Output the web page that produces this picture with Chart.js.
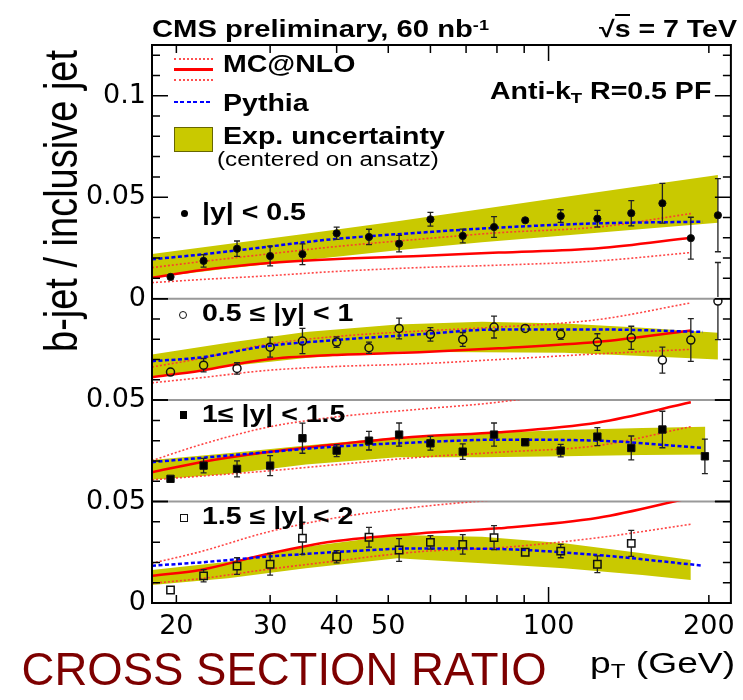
<!DOCTYPE html>
<html>
<head>
<meta charset="UTF-8">
<title>b-jet / inclusive jet</title>
<script src="https://cdn.jsdelivr.net/npm/chart.js"></script>
<style>
  body {margin:0; background:#fff;}
  #wrap {position:relative; width:743px; height:700px; overflow:hidden;}
  #wrap canvas {position:absolute; left:0; top:0;}
  .t {position:absolute; white-space:nowrap; font-family:"Liberation Sans", Arial, sans-serif; color:#000; transform-origin:0 0;}
  .sup {position:relative; top:-0.45em; font-size:0.62em;}
  .sub {position:relative; top:0.3em; font-size:0.65em;}
  .mk {position:absolute; box-sizing:border-box;}
</style>
</head>
<body>
<div id="wrap"><canvas id="c" width="743" height="700"></canvas></div>
<script>
// pT bin centres (GeV)
const ptA = [19.5, 22.5, 26, 30, 34.5, 40, 46, 52.4, 60, 69, 79, 90.4, 105.4, 123.5, 143, 163.6, 185, 208];
const ptC = [19.5, 22.5, 26, 30, 34.5, 40, 46, 52.4, 60, 69, 79, 90.4, 105.4, 123.5, 143, 163.6, 196.6];
const ptD = [19.5, 22.5, 26, 30, 34.5, 40, 46, 52.4, 60, 69, 79, 90.4, 105.4, 123.5, 143];

// measured ratio + stat. errors, one pair per rapidity bin
const data1 = [0.0107, 0.0186, 0.0246, 0.0210, 0.0219, 0.0322, 0.0304, 0.0271, 0.0391, 0.0309, 0.0353, 0.0386, 0.0407, 0.0394, 0.0421, 0.0470, 0.0298, 0.0411];
const err1  = [0.0010, 0.0031, 0.0038, 0.0049, 0.0051, 0.0030, 0.0038, 0.0041, 0.0034, 0.0034, 0.0051, 0.0005, 0.0031, 0.0041, 0.0062, 0.0098, 0.0103, 0.0180];
const data2 = [0.0138, 0.0172, 0.0156, 0.0261, 0.0291, 0.0286, 0.0258, 0.0353, 0.0324, 0.0299, 0.0360, 0.0353, 0.0324, 0.0286, 0.0307, 0.0197, 0.0296, 0.0488];
const err2  = [0.0007, 0.0033, 0.0028, 0.0049, 0.0062, 0.0026, 0.0028, 0.0051, 0.0033, 0.0034, 0.0054, 0.0007, 0.0025, 0.0041, 0.0057, 0.0064, 0.0105, 0.0190];
const data3 = [0.0112, 0.0177, 0.0161, 0.0177, 0.0312, 0.0251, 0.0300, 0.0330, 0.0287, 0.0246, 0.0330, 0.0292, 0.0251, 0.0320, 0.0264, 0.0355, 0.0223];
const err3  = [0.0008, 0.0036, 0.0039, 0.0049, 0.0074, 0.0030, 0.0046, 0.0057, 0.0034, 0.0038, 0.0057, 0.0007, 0.0031, 0.0044, 0.0059, 0.0090, 0.0085];
const data4 = [0.0064, 0.0134, 0.0182, 0.0191, 0.0319, 0.0228, 0.0324, 0.0261, 0.0299, 0.0289, 0.0322, 0.0250, 0.0256, 0.0191, 0.0294];
const err4  = [0.0005, 0.0030, 0.0041, 0.0054, 0.0079, 0.0030, 0.0049, 0.0056, 0.0033, 0.0048, 0.0059, 0.0008, 0.0033, 0.0041, 0.0064];

// theory curves
const mcPt = [18, 22.2, 29.5, 39.3, 57.2, 80.6, 124, 185];
const pyPt = [18, 22.2, 29.5, 39.3, 57.2, 80.6, 124, 195];
const pythia1 = [0.0194, 0.0217, 0.0255, 0.0293, 0.0325, 0.0350, 0.0371, 0.0379];
const mc1     = [0.0103, 0.0140, 0.0174, 0.0194, 0.0210, 0.0227, 0.0248, 0.0300];
const mcUp1   = [0.0153, 0.0182, 0.0219, 0.0255, 0.0293, 0.0325, 0.0353, 0.0419];
const mcDn1   = [0.0079, 0.0094, 0.0112, 0.0133, 0.0153, 0.0165, 0.0186, 0.0227];
const pythia2 = [0.0192, 0.0210, 0.0266, 0.0295, 0.0324, 0.0348, 0.0348, 0.0336];
const mc2     = [0.0113, 0.0145, 0.0200, 0.0222, 0.0236, 0.0255, 0.0287, 0.0343];
const mcUp2   = [0.0163, 0.0205, 0.0274, 0.0312, 0.0340, 0.0360, 0.0397, 0.0479];
const mcDn2   = [0.0085, 0.0110, 0.0146, 0.0165, 0.0179, 0.0200, 0.0228, 0.0250];
const pythia3 = [0.0194, 0.0215, 0.0243, 0.0270, 0.0292, 0.0305, 0.0300, 0.0264];
const mc3     = [0.0144, 0.0194, 0.0243, 0.0280, 0.0320, 0.0341, 0.0390, 0.0489];
const mcUp3   = [0.0202, 0.0280, 0.0365, 0.0415, 0.0455, 0.0490, 0.0565, 0.0695];
const mcDn3   = [0.0107, 0.0125, 0.0150, 0.0180, 0.0218, 0.0243, 0.0276, 0.0369];
const pythia4 = [0.0184, 0.0200, 0.0228, 0.0250, 0.0269, 0.0266, 0.0236, 0.0184];
const mc4     = [0.0134, 0.0163, 0.0240, 0.0303, 0.0343, 0.0368, 0.0420, 0.0519];
const mcUp4   = [0.0196, 0.0253, 0.0348, 0.0417, 0.0474, 0.0510, 0.0550, 0.0600];
const mcDn4   = [0.0097, 0.0120, 0.0165, 0.0205, 0.0253, 0.0272, 0.0322, 0.0388];

// experimental uncertainty band (centered on ansatz)
const bandPt1 = [18, 25, 35, 52, 75, 107, 150, 208];
const bandPt3 = [18, 25, 35, 52, 75, 107, 150, 197];
const bandPt4 = [18, 25, 35, 52, 75, 107, 150, 185];
const bandHi1 = [0.0220, 0.0269, 0.0320, 0.0382, 0.0442, 0.0501, 0.0556, 0.0609];
const bandLo1 = [0.0103, 0.0148, 0.0190, 0.0239, 0.0278, 0.0311, 0.0343, 0.0374];
const bandHi2 = [0.0225, 0.0282, 0.0336, 0.0373, 0.0386, 0.0378, 0.0356, 0.0332];
const bandLo2 = [0.0113, 0.0167, 0.0208, 0.0238, 0.0236, 0.0233, 0.0217, 0.0200];
const bandHi3 = [0.0205, 0.0238, 0.0276, 0.0317, 0.0336, 0.0353, 0.0363, 0.0369];
const bandLo3 = [0.0107, 0.0136, 0.0182, 0.0218, 0.0218, 0.0223, 0.0230, 0.0232];
const bandHi4 = [0.0163, 0.0203, 0.0277, 0.0335, 0.0327, 0.0294, 0.0245, 0.0212];
const bandLo4 = [0.0089, 0.0122, 0.0171, 0.0220, 0.0196, 0.0171, 0.0138, 0.0113];

// axes
const xTicks = [20, 30, 40, 50, 60, 70, 80, 90, 100, 200];
const xLabels = [20, 30, 40, 50, 100, 200];
const yLabels = [['0', '0.05', '0.1'], [], ['0.05'], ['0', '0.05']];

const zip = (xs, ys) => xs.map((x, i) => ({x: x, y: ys[i]}));

const panels = [
  {id: 'y1', max: 0.125, weight: 2.5, pt: ptA, val: data1, err: err1, style: 'circle', hollow: false,
   py: pythia1, mc: mc1, up: mcUp1, dn: mcDn1, bx: bandPt1, hi: bandHi1, lo: bandLo1},
  {id: 'y2', max: 0.05, weight: 1, pt: ptA, val: data2, err: err2, style: 'circle', hollow: true,
   py: pythia2, mc: mc2, up: mcUp2, dn: mcDn2, bx: bandPt1, hi: bandHi2, lo: bandLo2},
  {id: 'y3', max: 0.05, weight: 1, pt: ptC, val: data3, err: err3, style: 'rect', hollow: false,
   py: pythia3, mc: mc3, up: mcUp3, dn: mcDn3, bx: bandPt3, hi: bandHi3, lo: bandLo3},
  {id: 'y4', max: 0.05, weight: 1, pt: ptD, val: data4, err: err4, style: 'rect', hollow: true,
   py: pythia4, mc: mc4, up: mcUp4, dn: mcDn4, bx: bandPt4, hi: bandHi4, lo: bandLo4}
];

const datasets = [];
const scales = {
  x: {
    type: 'logarithmic', min: 18, max: 220,
    grid: {display: false, drawTicks: false}, border: {display: false},
    afterBuildTicks: s => { s.ticks = xTicks.map(v => ({value: v})); },
    afterFit: s => { s.height = 97; },
    ticks: {
      autoSkip: false, maxRotation: 0, padding: 8, color: '#000',
      font: {size: 27},
      callback: v => xLabels.includes(v) ? String(v) : ''
    }
  }
};

panels.forEach((p, k) => {
  const lab = yLabels[k];
  scales[p.id] = {
    type: 'linear', position: 'left', stack: 'panels', stackWeight: p.weight, weight: 4 - k,
    min: 0, max: p.max,
    grid: {display: false, drawTicks: false}, border: {display: false},
    afterBuildTicks: s => {
      const t = [];
      for (let i = 0; i * 0.01 <= p.max + 1e-9; i++) t.push({value: +(i * 0.01).toFixed(2)});
      s.ticks = t;
    },
    afterFit: s => { s.width = 152; },
    ticks: {
      autoSkip: false, padding: 6, color: '#000', font: {size: 27},
      callback: v => { const l = String(+v.toFixed(2)); return lab.includes(l) ? l : ''; }
    }
  };
  datasets.push({data: zip(p.bx, p.lo), yAxisID: p.id, borderWidth: 0, pointRadius: 0, fill: false, order: 3});
  datasets.push({data: zip(p.bx, p.hi), yAxisID: p.id, borderWidth: 0, pointRadius: 0, fill: '-1',
                 backgroundColor: '#c9c900', order: 3});
  [p.up, p.dn].forEach(c => datasets.push({data: zip(mcPt, c), yAxisID: p.id, borderColor: 'rgba(255,50,50,0.9)',
                 borderWidth: 1.6, borderDash: [2, 2], pointRadius: 0, cubicInterpolationMode: 'monotone', order: 2}));
  datasets.push({data: zip(mcPt, p.mc), yAxisID: p.id, borderColor: '#ff0000', borderWidth: 2.5,
                 pointRadius: 0, cubicInterpolationMode: 'monotone', order: 2});
  datasets.push({data: zip(pyPt, p.py), yAxisID: p.id, borderColor: '#0000ff', borderWidth: 2.5,
                 borderDash: [4, 2.5], pointRadius: 0, cubicInterpolationMode: 'monotone', order: 1});
  datasets.push({data: zip(p.pt, p.val), err: p.err, hollow: p.hollow, yAxisID: p.id, showLine: false,
                 pointStyle: p.style, pointRadius: p.style === 'rect' ? 5.2 : (p.hollow ? 4 : 3.6),
                 backgroundColor: p.hollow ? 'rgba(0,0,0,0)' : '#000', borderColor: '#111',
                 borderWidth: p.hollow ? 1.5 : 1, order: 0});
});

const rootFrame = {
  id: 'rootFrame',
  beforeDatasetsDraw(chart) {
    const {ctx, chartArea: a} = chart;
    ctx.save();
    ctx.strokeStyle = '#999';
    ctx.lineWidth = 2;
    ['y1', 'y2', 'y3'].forEach(id => {
      const yb = chart.scales[id].getPixelForValue(0);
      ctx.beginPath(); ctx.moveTo(a.left, yb); ctx.lineTo(a.right, yb); ctx.stroke();
    });
    ctx.restore();
  },
  beforeDatasetDraw(chart, args) {
    const ds = chart.data.datasets[args.index];
    if (!ds.err) return;
    const {ctx} = chart;
    const xs = chart.scales.x, ys = chart.scales[ds.yAxisID];
    const r = ds.hollow ? 4 : 0;
    ctx.save();
    ctx.strokeStyle = '#222';
    ctx.lineWidth = 1.3;
    ds.data.forEach((p, i) => {
      const px = xs.getPixelForValue(p.x);
      const py = ys.getPixelForValue(p.y);
      const t = ys.getPixelForValue(p.y + ds.err[i]);
      const b = ys.getPixelForValue(p.y - ds.err[i]);
      ctx.beginPath();
      if (r && py - t > r) { ctx.moveTo(px, t); ctx.lineTo(px, py - r); ctx.moveTo(px, py + r); ctx.lineTo(px, b); }
      else if (!r) { ctx.moveTo(px, t); ctx.lineTo(px, b); }
      if (py - t > 3) { ctx.moveTo(px - 3, t); ctx.lineTo(px + 3, t); ctx.moveTo(px - 3, b); ctx.lineTo(px + 3, b); }
      ctx.stroke();
    });
    ctx.restore();
  },
  afterDraw(chart) {
    const {ctx, chartArea: a} = chart;
    ctx.save();
    ctx.strokeStyle = '#000';
    ctx.lineWidth = 1.5;
    const xs = chart.scales.x;
    xs.ticks.forEach(t => {
      const px = xs.getPixelForValue(t.value);
      const len = t.value === 100 ? 16 : 8;
      ctx.beginPath();
      ctx.moveTo(px, a.bottom); ctx.lineTo(px, a.bottom - len);
      ctx.moveTo(px, a.top); ctx.lineTo(px, a.top + len);
      ctx.stroke();
    });
    panels.forEach(p => {
      const ys = chart.scales[p.id];
      ys.ticks.forEach(t => {
        const py = ys.getPixelForValue(t.value);
        const major = Math.abs(t.value * 20 - Math.round(t.value * 20)) < 1e-6;
        const len = major ? 16 : 8;
        ctx.beginPath();
        ctx.moveTo(a.left, py); ctx.lineTo(a.left + len, py);
        ctx.moveTo(a.right, py); ctx.lineTo(a.right - len, py);
        ctx.stroke();
      });
    });
    ctx.lineWidth = 2;
    ctx.strokeRect(a.left, a.top, a.right - a.left, a.bottom - a.top);
    ctx.restore();
  }
};

Chart.defaults.font.family = '"DejaVu Sans", sans-serif';
new Chart(document.getElementById('c'), {
  type: 'line',
  data: {datasets: datasets},
  options: {
    responsive: false,
    animation: false,
    devicePixelRatio: 1,
    layout: {padding: {left: 0, right: 10, top: 45, bottom: 0}},
    plugins: {legend: {display: false}, tooltip: {enabled: false}},
    scales: scales
  },
  plugins: [rootFrame]
});

// text overlay (ROOT style labels)
const wrap = document.getElementById('wrap');
function addText(html, x, base, size, o) {
  o = o || {};
  const d = document.createElement('div');
  d.className = 't';
  d.innerHTML = html;
  d.style.fontSize = size + 'px';
  d.style.lineHeight = size + 'px';
  d.style.fontWeight = o.bold ? 'bold' : 'normal';
  if (o.color) d.style.color = o.color;
  const sx = o.sx || 1.24;
  d.style.transform = 'scaleX(' + sx + ')';
  d.style.top = (base - 0.8465 * size) + 'px';
  wrap.appendChild(d);
  d.style.left = (o.right ? x - d.offsetWidth * sx : x) + 'px';
  return d;
}
function addBox(x, y, w, h, css) {
  const d = document.createElement('div');
  d.className = 'mk';
  d.style.left = x + 'px'; d.style.top = y + 'px';
  d.style.width = w + 'px'; d.style.height = h + 'px';
  Object.assign(d.style, css);
  wrap.appendChild(d);
}

addText('CMS preliminary, 60 nb<span class="sup">-1</span>', 152, 37, 23, {bold: true, sx: 1.27});
addText('&radic;<span style="border-top:2px solid #000">s</span> = 7 TeV', 737, 37, 23, {bold: true, right: true});
addText('MC@NLO', 222.7, 72.5, 23, {bold: true});
addText('Pythia', 222.7, 111, 23, {bold: true});
addText('Exp. uncertainty', 222.7, 144, 23, {bold: true});
addText('(centered on ansatz)', 217, 167, 19.5);
addText('Anti-k<span class="sub">T</span> R=0.5 PF', 490, 99, 23, {bold: true});
addText('|y| &lt; 0.5', 201.7, 220, 23, {bold: true});
addText('0.5 &le; |y| &lt; 1', 201.7, 321.7, 23, {bold: true});
addText('1&le; |y| &lt; 1.5', 201.7, 422.3, 23, {bold: true});
addText('1.5 &le; |y| &lt; 2', 201.7, 524.5, 23, {bold: true});
addText('p<span class="sub">T</span> (GeV)', 735, 673, 30, {right: true});
addText('CROSS SECTION RATIO', 21.6, 686, 45.5, {color: '#7d0000', sx: 1});

// legend samples
addBox(174, 58, 39, 2, {borderTop: '2px dotted #ff5050'});
addBox(174, 68, 39, 2.5, {background: '#ff0000'});
addBox(174, 78.5, 39, 2, {borderTop: '2px dotted #ff5050'});
addBox(174, 100.5, 39, 2.5, {background: 'repeating-linear-gradient(90deg,#0000ff 0 4px,transparent 4px 6.5px)'});
addBox(174, 127.3, 39, 24.4, {background: '#c9c900', border: '1px solid #666600'});

// panel label markers
addBox(180.5, 209.8, 7, 7, {background: '#000', borderRadius: '50%'});
addBox(179.3, 311, 8, 8, {border: '1.5px solid #111', borderRadius: '50%'});
addBox(179.6, 411.3, 7.4, 7.4, {background: '#000'});
addBox(180, 513.7, 8, 8, {border: '1.5px solid #111'});

// y axis title
const yt = document.createElement('div');
yt.className = 't';
yt.textContent = 'b-jet / inclusive jet';
yt.style.fontSize = '38px';
yt.style.lineHeight = '38px';
wrap.appendChild(yt);
yt.style.left = (61 - yt.offsetWidth / 2) + 'px';
yt.style.top = (201 - yt.offsetHeight / 2) + 'px';
yt.style.transformOrigin = '50% 50%';
yt.style.transform = 'rotate(-90deg) scaleY(1.24)';
</script>
</body>
</html>
